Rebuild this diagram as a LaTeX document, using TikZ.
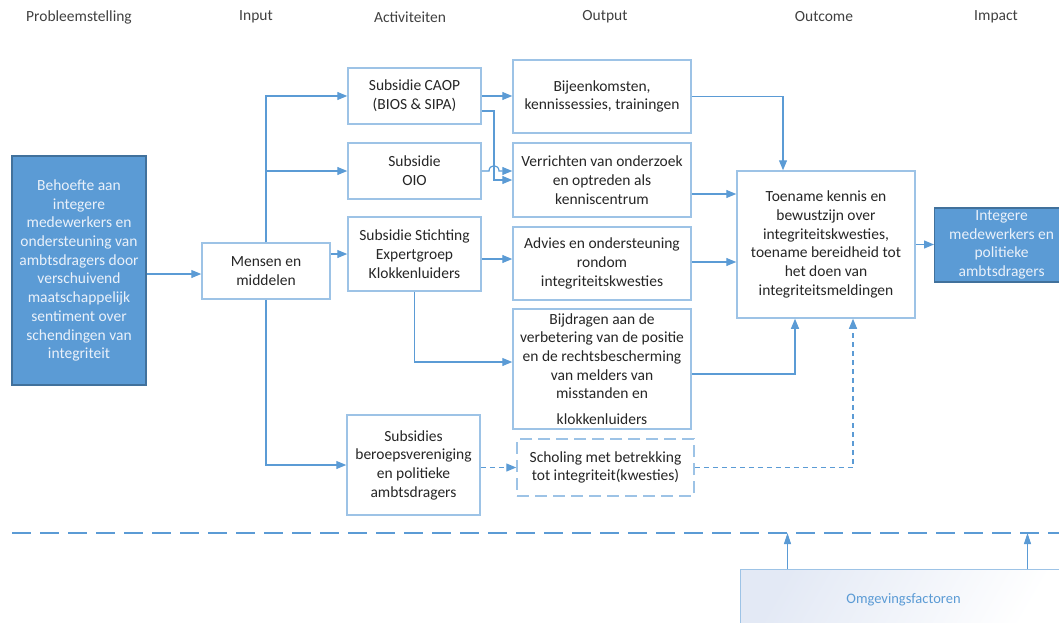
\documentclass[tikz,border=0pt]{standalone}
\usepackage{fontspec}
\setmainfont{Carlito}
\usetikzlibrary{arrows.meta,calc}
\definecolor{lineblue}{HTML}{5B9BD5}
\definecolor{boxborder}{HTML}{9DC3E6}
\definecolor{fillblue}{HTML}{5B9BD5}
\definecolor{darkborder}{HTML}{41719C}
\definecolor{txt}{HTML}{262626}
\definecolor{hdr}{HTML}{404040}
\definecolor{lighttxt}{HTML}{EAF1FA}
\definecolor{shadeblue}{HTML}{E3E9F5}
\begin{document}
\begin{tikzpicture}[x=1pt,y=-1pt,
  every node/.style={font=\fontsize{15.5}{18.7}\selectfont, text=txt},
  wbox/.style 2 args={draw=boxborder, line width=1.5pt, fill=white, align=center, inner sep=2pt, minimum width=#1pt, minimum height=#2pt},
  bbox/.style 2 args={draw=darkborder, line width=1.2pt, fill=fillblue, text=lighttxt, align=center, inner sep=2pt, minimum width=#1pt, minimum height=#2pt},
  dbox/.style 2 args={wbox={#1}{#2}, dash pattern=on 12pt off 6pt},
  hdrlabel/.style={font=\fontsize{15.5}{17}\selectfont, text=hdr},
  arr/.style={draw=lineblue, line width=1.2pt, -{Triangle[length=10pt,width=8pt]}},
  darr/.style={arr, dash pattern=on 5pt off 4pt},
  thinarr/.style={draw=lineblue, line width=0.8pt, -{Triangle[length=11pt,width=7pt]}}
]
\useasboundingbox (0,0) rectangle (1059,623);
\clip (0,0) rectangle (1059,623);

% header
\node[hdrlabel] (h1) at (79,17) {Probleemstelling};
\node[hdrlabel] (h2) at (256,17) {Input};
\node[hdrlabel] (h3) at (410,17) {Activiteiten};
\node[hdrlabel] (h4) at (605,17) {Output};
\node[hdrlabel] (h5) at (824,17) {Outcome};
\node[hdrlabel] (h6) at (996,17) {Impact};

% boxes
\node[bbox={134}{229}] (prob) at (79,270.5) {Behoefte aan\\integere\\medewerkers en\\ondersteuning van\\ambtsdragers door\\verschuivend\\maatschappelijk\\sentiment over\\schendingen van\\integriteit};
\node[wbox={128}{56}] (mensen) at (266,271) {Mensen en\\middelen};
\node[wbox={133}{56}] (caop) at (414.5,96) {Subsidie CAOP\\(BIOS \& SIPA)};
\node[wbox={133}{56}] (oio) at (414.5,171) {Subsidie\\OIO};
\node[wbox={133}{74}] (stich) at (414.5,254) {Subsidie Stichting\\Expertgroep\\Klokkenluiders};
\node[wbox={133}{100}] (beroeps) at (413.5,465) {Subsidies\\beroepsvereniging\\en politieke\\ambtsdragers};
\node[wbox={178}{73}] (bijeen) at (602,96.5) {Bijeenkomsten,\\kennissessies, trainingen};
\node[wbox={178}{74}] (verr) at (602,180) {Verrichten van onderzoek\\en optreden als\\kenniscentrum};
\node[wbox={178}{73}] (advies) at (602,263.5) {Advies en ondersteuning\\rondom\\integriteitskwesties};
\node[wbox={178}{120}] (bijdr) at (602,369) {Bijdragen aan de\\verbetering van de positie\\en de rechtsbescherming\\van melders van\\misstanden en\\[7pt]klokkenluiders};
\node[dbox={177}{57}] (schol) at (605.5,467.5) {Scholing met betrekking\\tot integriteit(kwesties)};
\node[wbox={178}{147}] (outc) at (826,244.5) {Toename kennis en\\bewustzijn over\\integriteitskwesties,\\toename bereidheid tot\\het doen van\\integriteitsmeldingen};
\node[bbox={134}{74}, anchor=west] (impact) at (934,245) {Integere\\medewerkers en\\politieke\\ambtsdragers};
\node[draw=boxborder, line width=1pt, shading=axis, left color=shadeblue, right color=white, shading angle=60,
      anchor=north west, minimum width=326pt, minimum height=60pt, text=lineblue,
      font=\fontsize{14.5}{16}\selectfont] (omgev) at (740,569) {Omgevingsfactoren};

% dashed separator line
\coordinate (dlA) at (12,533);
\coordinate (dlB) at (1059,533);
\draw[draw=lineblue, line width=2pt, dash pattern=on 19pt off 9pt] (dlA) -- (dlB);

% connectors
\draw[arr] ([yshift=-3.5pt]prob.east) -- ([yshift=-3pt]mensen.west);
\draw[arr] (mensen.north) |- (caop.west);
\draw[arr] (mensen.north) |- (oio.west);
\draw[arr] (stich.west -| mensen.east) -- (stich.west);
\draw[arr] (mensen.south) |- (beroeps.west);

\draw[arr] (caop.east) -- (caop.east -| bijeen.west);
\draw[arr] ([yshift=-15pt]caop.east) -- (494,111) |- (verr.west);
\draw[arr] (oio.east) -- (489,171) .. controls (489,164) and (499,164) .. (499,171) -- (oio.east -| verr.west);
\draw[arr] ([yshift=-5pt]stich.east) -- ([yshift=-5pt]stich.east -| advies.west);
\draw[arr] (stich.south) |- ([yshift=7pt]bijdr.west);
\draw[darr] (schol.west -| beroeps.east) -- (schol.west);

\draw[arr] (bijeen.east) -| ([xshift=-43pt]outc.north);
\draw[arr] ([yshift=-14pt]verr.east) -- ([yshift=-14pt]verr.east -| outc.west);
\draw[arr] ([yshift=1.5pt]advies.east) -- ([yshift=1.5pt]advies.east -| outc.west);
\draw[arr] ([yshift=-5pt]bijdr.east) -| ([xshift=-31pt]outc.south);
\draw[darr] (schol.east) -| ([xshift=27pt]outc.south);
\draw[arr] (outc.east) -- (outc.east -| impact.west);

\draw[thinarr] ([xshift=-116pt]omgev.north) -- ([xshift=-116pt]omgev.north |- dlA);
\draw[thinarr] ([xshift=124pt]omgev.north) -- ([xshift=124pt]omgev.north |- dlA);
\end{tikzpicture}
\end{document}
